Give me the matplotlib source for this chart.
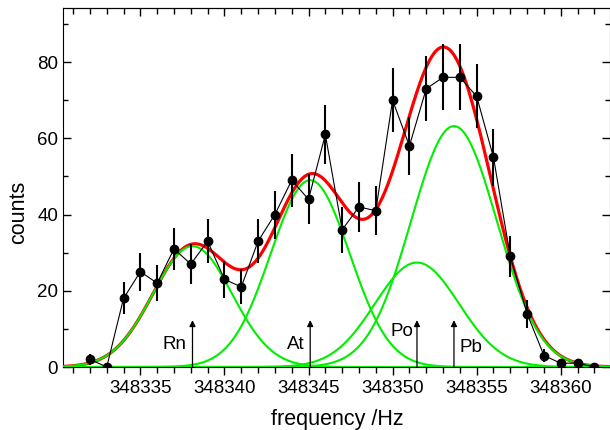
"""
Frequency scan with four-peak Gaussian fit (Rn, At, Po, Pb).
"""

import numpy as np
import matplotlib
matplotlib.use("Agg")
import matplotlib.pyplot as plt
from matplotlib.ticker import MultipleLocator

plt.rcParams["font.family"] = ["Liberation Sans", "DejaVu Sans"]

# measured scan
freq = [348332, 348333, 348334, 348335, 348336, 348337, 348338, 348339,
        348340, 348341, 348342, 348343, 348344, 348345, 348346, 348347,
        348348, 348349, 348350, 348351, 348352, 348353, 348354, 348355,
        348356, 348357, 348358, 348359, 348360, 348361, 348362]
counts = [2, 0, 18, 25, 22, 31, 27, 33, 23, 21, 33, 40, 49, 44, 61, 36,
          42, 41, 70, 58, 73, 76, 76, 71, 55, 29, 14, 3, 1, 1, 0]
errors = [1.4, 0, 4.2, 5.0, 4.7, 5.6, 5.2, 5.7, 4.8, 4.6, 5.7, 6.3, 7.0, 6.6,
          7.8, 6.0, 6.5, 6.4, 8.4, 7.6, 8.5, 8.7, 8.7, 8.4, 7.4, 5.4, 3.7,
          1.7, 1.0, 1.0, 0]

# fitted peaks
peak_names = ["Rn", "At", "Po", "Pb"]
peak_centers = [348338.1, 348345.1, 348351.45, 348353.65]
peak_amps = [31.7, 49.0, 27.4, 63.2]
peak_sigmas = [2.35, 2.35, 2.5, 2.55]

# label offsets (text placement relative to arrows)
label_pos = {"Rn": (-0.35, 5.8, "right"), "At": (-0.35, 5.8, "right"),
             "Po": (-0.2, 9.3, "right"), "Pb": (0.3, 5.0, "left")}
arrow_top = 12.3


def gauss(x, a, c, s):
    return a * np.exp(-(x - c) ** 2 / (2 * s ** 2))


fig = plt.figure(figsize=(6.1, 4.3), dpi=100)
ax = fig.add_axes([0.1033, 0.1465, 0.8959, 0.835])

xs = np.linspace(348330.4, 348362.9, 800)
comps = [gauss(xs, a, c, s) for a, c, s in zip(peak_amps, peak_centers, peak_sigmas)]
total = np.sum(comps, axis=0)

ax.plot(xs, total, color="#ff0000", lw=2.3, zorder=2)
for comp in comps:
    ax.plot(xs, comp, color="#00ee00", lw=1.5, zorder=3)

ax.plot(freq, counts, color="black", lw=0.8, zorder=4)
ax.errorbar(freq, counts, yerr=errors, fmt="o", color="black", ms=6,
            elinewidth=1.5, capsize=0, zorder=5)

for name, c in zip(peak_names, peak_centers):
    ax.annotate("", xy=(c, arrow_top), xytext=(c, 0),
                arrowprops=dict(arrowstyle="-|>", color="black", lw=0.9,
                                mutation_scale=9, shrinkA=0, shrinkB=0),
                zorder=6)
    dx, ty, ha = label_pos[name]
    ax.text(c + dx, ty, name, ha=ha, va="center", fontsize=13.5)

ax.set_xlim(348330.4, 348362.9)
ax.set_ylim(0, 94.2)
ax.xaxis.set_major_locator(MultipleLocator(5))
ax.xaxis.set_minor_locator(MultipleLocator(1))
ax.yaxis.set_major_locator(MultipleLocator(20))
ax.yaxis.set_minor_locator(MultipleLocator(10))
ax.ticklabel_format(axis="x", useOffset=False, style="plain")

ax.tick_params(axis="x", which="both", direction="out", top=False, labelsize=13.5)
ax.tick_params(axis="x", which="major", length=6, width=1)
ax.tick_params(axis="x", which="minor", length=4, width=1)
ax.tick_params(axis="y", which="both", direction="in", right=True, labelsize=13.5)
ax.tick_params(axis="y", which="major", length=6, width=1)
ax.tick_params(axis="y", which="minor", length=3.5, width=1)

# top axis with inward mirrored ticks
top = ax.secondary_xaxis("top")
top.xaxis.set_major_locator(MultipleLocator(5))
top.xaxis.set_minor_locator(MultipleLocator(1))
top.tick_params(which="both", direction="in", labeltop=False)
top.tick_params(which="major", length=6, width=1)
top.tick_params(which="minor", length=4, width=1)

ax.set_xlabel("frequency /Hz", fontsize=15.5)
ax.set_ylabel("counts", fontsize=15.5)
ax.xaxis.set_label_coords(0.5016, -0.118)
ax.yaxis.set_label_coords(-0.0616, 0.432)

fig.savefig("out.png", dpi=100)
